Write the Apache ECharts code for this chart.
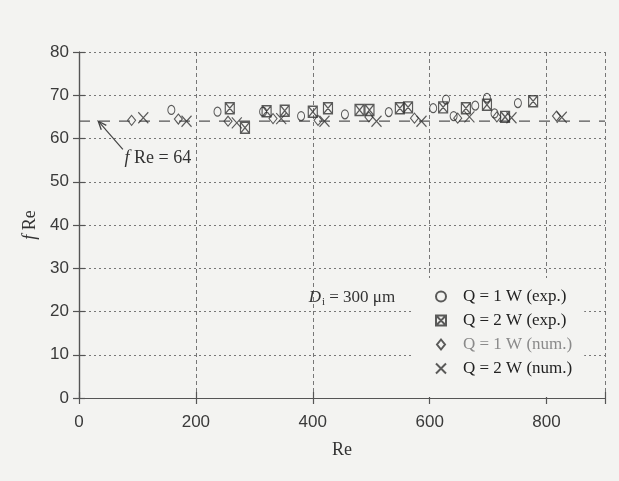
<!DOCTYPE html>
<html><head><meta charset="utf-8">
<script src="https://cdn.jsdelivr.net/npm/echarts@6/dist/echarts.min.js"></script>
<style>html,body{margin:0;padding:0;background:#f3f3f1;}#c{width:619px;height:481px;}</style>
</head><body><div id="c"></div>
<script>
// ---- data ----
var xTicks = [0, 200, 400, 600, 800];
var yTicks = [0, 10, 20, 30, 40, 50, 60, 70, 80];
var refValue = 64;
var refRange = [0, 900];
var q1Exp = [[158,66.6],[237,66.2],[315,66.2],[380,65.2],[455,65.6],[530,66.1],[606,67.0],[628,69.0],[641,65.2],[678,67.6],[698,69.4],[711,65.8],[751,68.2]];
var q2Exp = [[258,67.0],[284,62.5],[321,66.3],[352,66.4],[400,66.2],[426,67.0],[480,66.6],[497,66.6],[549,67.0],[563,67.2],[623,67.2],[662,67.0],[698,67.8],[729,65.0],[777,68.6]];
var q1Num = [[90,64.2],[170,64.5],[255,64.0],[332,64.6],[409,64.2],[496,65.0],[574,64.7],[648,64.7],[715,65.0],[817,65.2]];
var q2Num = [[110,64.8],[184,64.0],[270,63.6],[346,64.6],[420,64.0],[509,64.0],[586,64.0],[668,65.0],[740,64.8],[826,64.9]];
var names = ['Q = 1 W (exp.)', 'Q = 2 W (exp.)', 'Q = 1 W (num.)', 'Q = 2 W (num.)'];

var ink = '#333';
var boxX = 'path://M0,0L10,0L10,10L0,10ZM0,0L10,10M10,0L0,10';
var cross = 'path://M0,0L10,10M10,0L0,10';
var diam = 'path://M4,0L8,5L4,10L0,5Z';
function sc(name, data, symbol, size, bw) {
  return { type: 'scatter', name: name, data: data, symbol: symbol, symbolSize: size,
    itemStyle: { color: 'rgba(0,0,0,0)', borderColor: ink, borderWidth: bw }, z: 3 };
}
var chart = echarts.init(document.getElementById('c'), null, { renderer: 'canvas' });
var axisLine = { show: true, lineStyle: { color: '#555', width: 1.2 } };
var tick = { show: true, inside: true, length: 6, lineStyle: { color: '#555', width: 1.2 } };
var option = {
  backgroundColor: '#f3f3f1',
  animation: false,
  grid: { left: 79, right: 14, top: 52, bottom: 83 },
  xAxis: [{
    type: 'value', min: 0, max: 900, interval: 200, position: 'bottom',
    name: 'Re', nameLocation: 'middle', nameGap: 43,
    nameTextStyle: { fontFamily: 'Liberation Serif', fontSize: 18, color: ink },
    axisLine: axisLine, axisTick: tick,
    axisLabel: { margin: 16, fontFamily: 'Liberation Sans', fontSize: 17, color: '#3a3a3a',
      formatter: function (v) { return xTicks.indexOf(v) >= 0 ? String(v) : ''; } },
    splitLine: { show: true, lineStyle: { color: '#777', type: [4, 3], width: 1 } }
  }, {
    type: 'value', min: 0, max: 900, interval: 200, position: 'top',
    axisLine: axisLine, axisTick: tick, axisLabel: { show: false }, splitLine: { show: false }
  }],
  yAxis: [{
    type: 'value', min: 0, max: 80, interval: 10, position: 'left',
    name: '{i|f} Re', nameLocation: 'middle', nameGap: 33, nameRotate: 90,
    nameTextStyle: { fontFamily: 'Liberation Serif', fontSize: 18, color: ink,
      rich: { i: { fontFamily: 'Liberation Serif', fontStyle: 'italic', fontSize: 18, color: ink } } },
    axisLine: axisLine, axisTick: tick,
    axisLabel: { margin: 10, fontFamily: 'Liberation Sans', fontSize: 17, color: '#3a3a3a',
      formatter: function (v) { return yTicks.indexOf(v) >= 0 ? String(v) : ''; } },
    splitLine: { show: true, lineStyle: { color: '#777', type: [2, 3], width: 1 } }
  }, {
    type: 'value', min: 0, max: 80, interval: 10, position: 'right',
    axisLine: axisLine, axisTick: tick, axisLabel: { show: false }, splitLine: { show: false }
  }],
  legend: {
    orient: 'vertical', left: 412, top: 278, itemGap: 7,
    itemWidth: 34, itemHeight: 10,
    padding: [10, 12, 20, 23],
    backgroundColor: '#f3f3f1',
    textStyle: { fontFamily: 'Liberation Serif', fontSize: 17, color: '#222' },
    data: [
      { name: names[0] }, { name: names[1] },
      { name: names[2], textStyle: { color: '#8a8a8a' } }, { name: names[3] }
    ]
  },
  series: [
    { type: 'line', name: 'ref', data: [[refRange[0], refValue], [refRange[1], refValue]],
      symbol: 'none', silent: true, z: 2,
      lineStyle: { color: '#555', width: 1.3, type: [11, 9] } },
    sc(names[0], q1Exp, 'circle', [7, 9], 1.1),
    sc(names[1], q2Exp, boxX, [9, 11], 1.3),
    sc(names[2], q1Num, diam, [8, 10], 1.1),
    sc(names[3], q2Num, cross, [10, 11], 1.2)
  ]
};
chart.setOption(option);

// annotations positioned through the axes
var tip = chart.convertToPixel({ xAxisIndex: 0, yAxisIndex: 0 }, [33, refValue]);
var tail = chart.convertToPixel({ xAxisIndex: 0, yAxisIndex: 0 }, [75, 57.5]);
var lbl = chart.convertToPixel({ xAxisIndex: 0, yAxisIndex: 0 }, [78, 55.5]);
var dl = chart.convertToPixel({ xAxisIndex: 0, yAxisIndex: 0 }, [393, 23.3]);
var ang = Math.atan2(tail[1] - tip[1], tail[0] - tip[0]);
var ah = 9, spread = 0.38;
chart.setOption({
  graphic: [
    { type: 'line', shape: { x1: tail[0], y1: tail[1], x2: tip[0], y2: tip[1] },
      style: { stroke: '#444', lineWidth: 1.2 }, z: 10 },
    { type: 'polyline', shape: { points: [
        [tip[0] + ah * Math.cos(ang + spread), tip[1] + ah * Math.sin(ang + spread)],
        [tip[0], tip[1]],
        [tip[0] + ah * Math.cos(ang - spread), tip[1] + ah * Math.sin(ang - spread)] ] },
      style: { stroke: '#444', lineWidth: 1.3, fill: null }, z: 10 },
    { type: 'text', x: lbl[0], y: lbl[1], z: 10,
      style: { text: '{i|f} Re = 64', verticalAlign: 'middle', align: 'left',
        font: '18px "Liberation Serif"', fill: ink,
        rich: { i: { fontStyle: 'italic', fontFamily: 'Liberation Serif', fontSize: 18, fill: ink } } } },
    { type: 'text', x: dl[0], y: dl[1], z: 10,
      style: { text: '{d|D}{s|i} = 300 μm', verticalAlign: 'middle', align: 'left',
        font: '17px "Liberation Serif"', fill: ink,
        rich: { d: { fontStyle: 'italic', fontFamily: 'Liberation Serif', fontSize: 17, fill: ink },
                s: { fontFamily: 'Liberation Serif', fontSize: 11, fill: ink, padding: [10, 0, 0, 1] } } } }
  ]
});
</script></body></html>
